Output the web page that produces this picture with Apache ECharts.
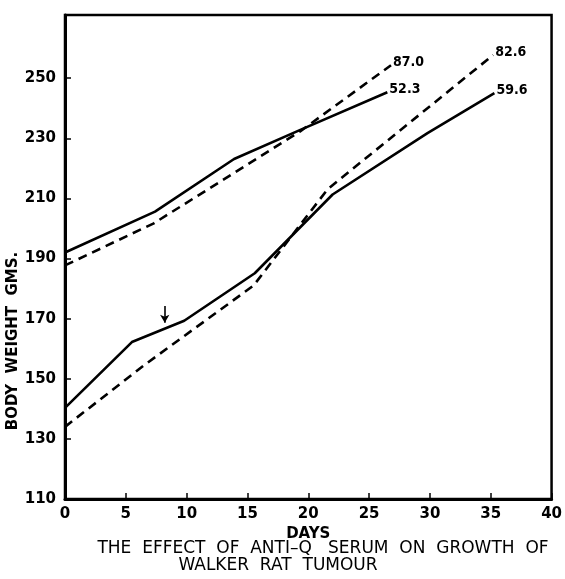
<!DOCTYPE html>
<html>
<head>
<meta charset="utf-8">
<title>The effect of anti-Q serum on growth of Walker rat tumour</title>
<script src="https://cdn.jsdelivr.net/npm/echarts@6/dist/echarts.min.js"></script>
<style>
  html, body { margin: 0; padding: 0; background: #fff; }
  #chart { width: 565px; height: 579px; }
</style>
</head>
<body>
<div id="chart"></div>
<script>
// Body weight (g) against days, four groups of rats.
// Upper pair of curves
const upperSolidDays = [0, 7.4, 13.9, 19.3, 26.5];
const upperSolidWt   = [192, 205.6, 223.1, 232.7, 245.3];
const upperDashDays  = [0, 7.3, 19.3, 26.8];
const upperDashWt    = [187.7, 201.7, 232.2, 254.3];
// Lower pair of curves
const lowerSolidDays = [0, 5.5, 9.8, 15.6, 22.0, 29.8, 35.3];
const lowerSolidWt   = [140.3, 162.2, 169.3, 185.1, 211.3, 231.7, 245.0];
const lowerDashDays  = [0, 6.5, 15.5, 21.6, 35.2];
const lowerDashWt    = [134, 154.5, 181, 213.1, 257.7];
// Figures written at the end of each curve
const endNotes = ['52.3', '87.0', '59.6', '82.6'];
// Day of serum injection, arrow drawn from/to these weights
const doseDay = 8.2;
const doseArrowWt = [174.2, 168.6];
// Axis ticks
const dayTicks = [0, 5, 10, 15, 20, 25, 30, 35, 40];
const weightTicks = [110, 130, 150, 170, 190, 210, 230, 250];

const INK = '#000';
const FONT = '"DejaVu Sans", sans-serif';

function curve(days, wts, note, dashed, extra) {
  return Object.assign({
    type: 'line',
    data: days.map((d, i) => [d, wts[i]]),
    symbol: 'none',
    silent: true,
    endLabel: {
      show: true, distance: 2, offset: [0, -3],
      formatter: note, color: INK, fontSize: 14, fontWeight: 'bold',
      fontFamily: '"DejaVu Sans Condensed", "DejaVu Sans", sans-serif'
    },
    lineStyle: { color: INK, width: 2.6, type: dashed ? [9, 6] : 'solid', cap: 'butt' }
  }, extra || {});
}

const chart = echarts.init(document.getElementById('chart'), null, { renderer: 'canvas' });

chart.setOption({
  animation: false,
  backgroundColor: '#fff',
  grid: {
    left: 65, right: 12, top: 15, bottom: 80,
    show: true, borderColor: INK, borderWidth: 2.5, backgroundColor: 'transparent'
  },
  xAxis: {
    type: 'value',
    min: dayTicks[0], max: dayTicks[dayTicks.length - 1], interval: 5,
    name: 'DAYS', nameLocation: 'middle', nameGap: 25,
    nameTextStyle: { color: INK, fontSize: 15, fontWeight: 'bold', fontFamily: FONT },
    axisLine: { show: true, onZero: false, lineStyle: { color: INK, width: 3 } },
    axisTick: { show: true, inside: true, length: 6, lineStyle: { color: INK, width: 1.5 } },
    axisLabel: { color: INK, fontSize: 15, fontWeight: 'bold', fontFamily: FONT, margin: 8 },
    splitLine: { show: false }
  },
  yAxis: {
    type: 'value',
    min: 110, max: 271, interval: 20,
    axisLine: { show: true, onZero: false, lineStyle: { color: INK, width: 3 } },
    axisTick: { show: true, inside: true, length: 6, customValues: weightTicks,
                lineStyle: { color: INK, width: 1.5 } },
    axisLabel: { color: INK, fontSize: 15, fontWeight: 'bold', fontFamily: FONT, margin: 9,
                 customValues: weightTicks },
    splitLine: { show: false }
  },
  series: [
    curve(upperSolidDays, upperSolidWt, endNotes[0], false),
    curve(upperDashDays, upperDashWt, endNotes[1], true),
    curve(lowerSolidDays, lowerSolidWt, endNotes[2], false, {
      markLine: {
        silent: true,
        symbol: ['none', 'arrow'],
        symbolSize: [7, 8],
        label: { show: false },
        lineStyle: { color: INK, width: 1.6, type: 'solid' },
        data: [[{ coord: [doseDay, doseArrowWt[0]] }, { coord: [doseDay, doseArrowWt[1]] }]]
      }
    }),
    curve(lowerDashDays, lowerDashWt, endNotes[3], true)
  ],
  graphic: [
    {
      type: 'text', x: 13, y: 341, rotation: Math.PI / 2,
      style: {
        text: 'BODY  WEIGHT  GMS.', fill: INK, fontSize: 15, fontWeight: 'bold', fontFamily: FONT,
        align: 'center', verticalAlign: 'middle'
      }
    },
    {
      type: 'text', x: 323, y: 549,
      style: {
        text: 'THE  EFFECT  OF  ANTI\u2013Q   SERUM  ON  GROWTH  OF', fill: INK,
        fontSize: 17, fontFamily: FONT, align: 'center', verticalAlign: 'middle'
      }
    },
    {
      type: 'text', x: 278, y: 566,
      style: {
        text: 'WALKER  RAT  TUMOUR', fill: INK,
        fontSize: 17, fontFamily: FONT, align: 'center', verticalAlign: 'middle'
      }
    }
  ]
});
</script>
</body>
</html>
